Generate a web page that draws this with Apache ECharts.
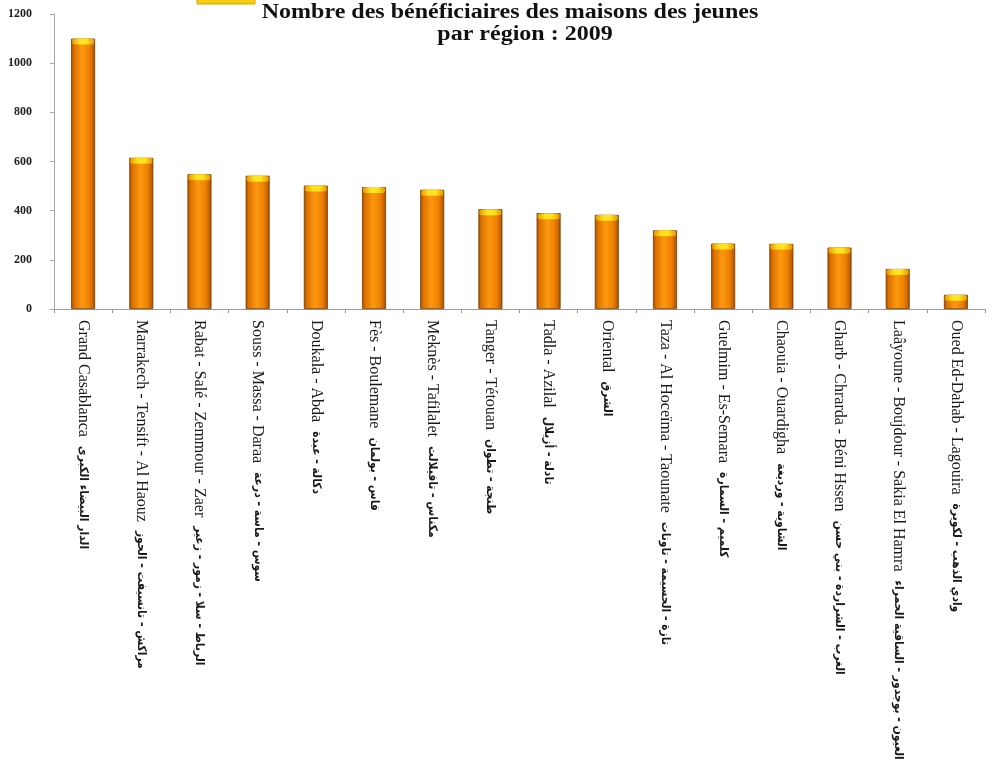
<!DOCTYPE html>
<html>
<head>
<meta charset="utf-8">
<title>Nombre des bénéficiaires des maisons des jeunes par région : 2009</title>
<script src="https://cdn.jsdelivr.net/npm/echarts@6/dist/echarts.min.js"></script>
<style>
  html, body { margin: 0; padding: 0; background: #ffffff; }
  #chart { width: 994px; height: 762px; }
</style>
</head>
<body>
<div id="chart"></div>
<script>
// Region names in French
const regionsFr = [
  'Grand Casablanca',
  'Marrakech - Tensift - Al Haouz',
  'Rabat - Salé - Zemmour - Zaer',
  'Souss - Massa - Daraa',
  'Doukala - Abda',
  'Fès - Boulemane',
  'Meknès - Tafilalet',
  'Tanger - Tétouan',
  'Tadla - Azilal',
  'Oriental',
  'Taza - Al Hoceïma - Taounate',
  'Guelmim - Es-Semara',
  'Chaouia - Ouardigha',
  'Gharb - Chrarda - Béni Hssen',
  'Laâyoune - Boujdour - Sakia El Hamra',
  'Oued Ed-Dahab - Lagouira'
];

// Region names in Arabic, same order
const regionsAr = [
  'الدار البيضاء الكبرى',
  'مراكش - تانسيفت - الحوز',
  'الرباط - سلا - زمور - زعير',
  'سوس - ماسة - درعة',
  'دكالة - عبدة',
  'فاس - بولمان',
  'مكناس - تافيلالت',
  'طنجة - تطوان',
  'تادلة - أزيلال',
  'الشرق',
  'تازة - الحسيمة - تاونات',
  'كلميم - السمارة',
  'الشاوية - ورديغة',
  'الغرب - الشراردة - بني حسن',
  'العيون - بوجدور - الساقية الحمراء',
  'وادي الذهب - لكويرة'
];

// Beneficiaries per region, 2009
const beneficiaries = [1100, 615, 548, 542, 502, 496, 485, 406, 390, 383, 320, 266, 265, 250, 163, 58];

// Value axis ticks
const yTicks = { min: 0, max: 1200, interval: 200 };

const titleLines = ['Nombre des bénéficiaires des maisons des jeunes', 'par région : 2009'];

const categories = regionsFr.map((fr, i) => fr + '\u2003' + regionsAr[i]);

// Cylinder-like shading across each bar
const barFill = new echarts.graphic.LinearGradient(0, 0, 1, 0, [
  { offset: 0, color: '#a04a00' },
  { offset: 0.12, color: '#dc7000' },
  { offset: 0.45, color: '#fd9810' },
  { offset: 0.75, color: '#ee8200' },
  { offset: 0.92, color: '#c66000' },
  { offset: 1, color: '#8e4000' }
]);

// Yellow top face of each bar
const capFill = new echarts.graphic.LinearGradient(0, 0, 1, 0, [
  { offset: 0, color: '#e89a00' },
  { offset: 0.35, color: '#ffe31f' },
  { offset: 0.65, color: '#ffe31f' },
  { offset: 1, color: '#e89a00' }
]);

const titleStyle = (text) => ({
  text,
  font: "bold 20px 'Liberation Serif', serif",
  fill: '#111',
  textAlign: 'center',
  textVerticalAlign: 'top'
});

const chart = echarts.init(document.getElementById('chart'), null, { renderer: 'canvas' });

chart.setOption({
  backgroundColor: '#ffffff',
  animation: false,
  graphic: [
    {
      type: 'rect',
      shape: { x: 197, y: -2, width: 58, height: 6 },
      style: { fill: '#f7cf10', stroke: '#e0a000', lineWidth: 1 }
    },
    { type: 'text', x: 510, y: 3, scaleX: 1.2, style: titleStyle(titleLines[0]) },
    { type: 'text', x: 525, y: 25, scaleX: 1.2, style: titleStyle(titleLines[1]) }
  ],
  grid: { left: 54, right: 9, top: 14, bottom: 453, containLabel: false, outerBoundsMode: 'none' },
  xAxis: {
    type: 'category',
    data: categories,
    axisLine: { lineStyle: { color: '#9a9a9a', width: 1 } },
    axisTick: { show: true, length: 4, lineStyle: { color: '#9a9a9a' } },
    axisLabel: {
      interval: 0,
      rotate: -90,
      margin: 11,
      color: '#1a1a1a',
      formatter: (v) => {
        const parts = v.split('\u2003');
        return '{fr|' + parts[0] + '}{gap|}{ar|' + parts[1] + '}';
      },
      rich: {
        fr: { fontFamily: "'Liberation Serif', serif", fontSize: 16, color: '#1a1a1a' },
        gap: { width: 9 },
        ar: { fontFamily: "'DejaVu Sans Condensed', 'DejaVu Sans', sans-serif", fontSize: 12, fontWeight: 'bold', color: '#1a1a1a' }
      }
    }
  },
  yAxis: {
    type: 'value',
    min: yTicks.min,
    max: yTicks.max,
    interval: yTicks.interval,
    splitLine: { show: false },
    axisLine: { show: true, lineStyle: { color: '#a8a8a8', width: 1 } },
    axisTick: { show: true, length: 4, lineStyle: { color: '#a8a8a8' } },
    axisLabel: {
      margin: 22,
      fontFamily: "'Liberation Serif', serif",
      fontWeight: 'bold',
      fontSize: 12,
      color: '#222',
      formatter: (v) => String(v)
    }
  },
  series: [
    {
      name: 'Bénéficiaires',
      type: 'bar',
      data: beneficiaries,
      barWidth: 24,
      barGap: '-100%',
      itemStyle: { color: barFill, borderColor: '#7a3c00', borderWidth: 0.8 },
      z: 2
    },
    {
      name: 'cap',
      type: 'pictorialBar',
      data: beneficiaries,
      symbol: 'roundRect',
      symbolSize: [22, 6],
      symbolPosition: 'end',
      symbolOffset: [0, 0],
      barGap: '-100%',
      itemStyle: { color: capFill },
      z: 3,
      silent: true
    }
  ]
});
</script>
</body>
</html>
